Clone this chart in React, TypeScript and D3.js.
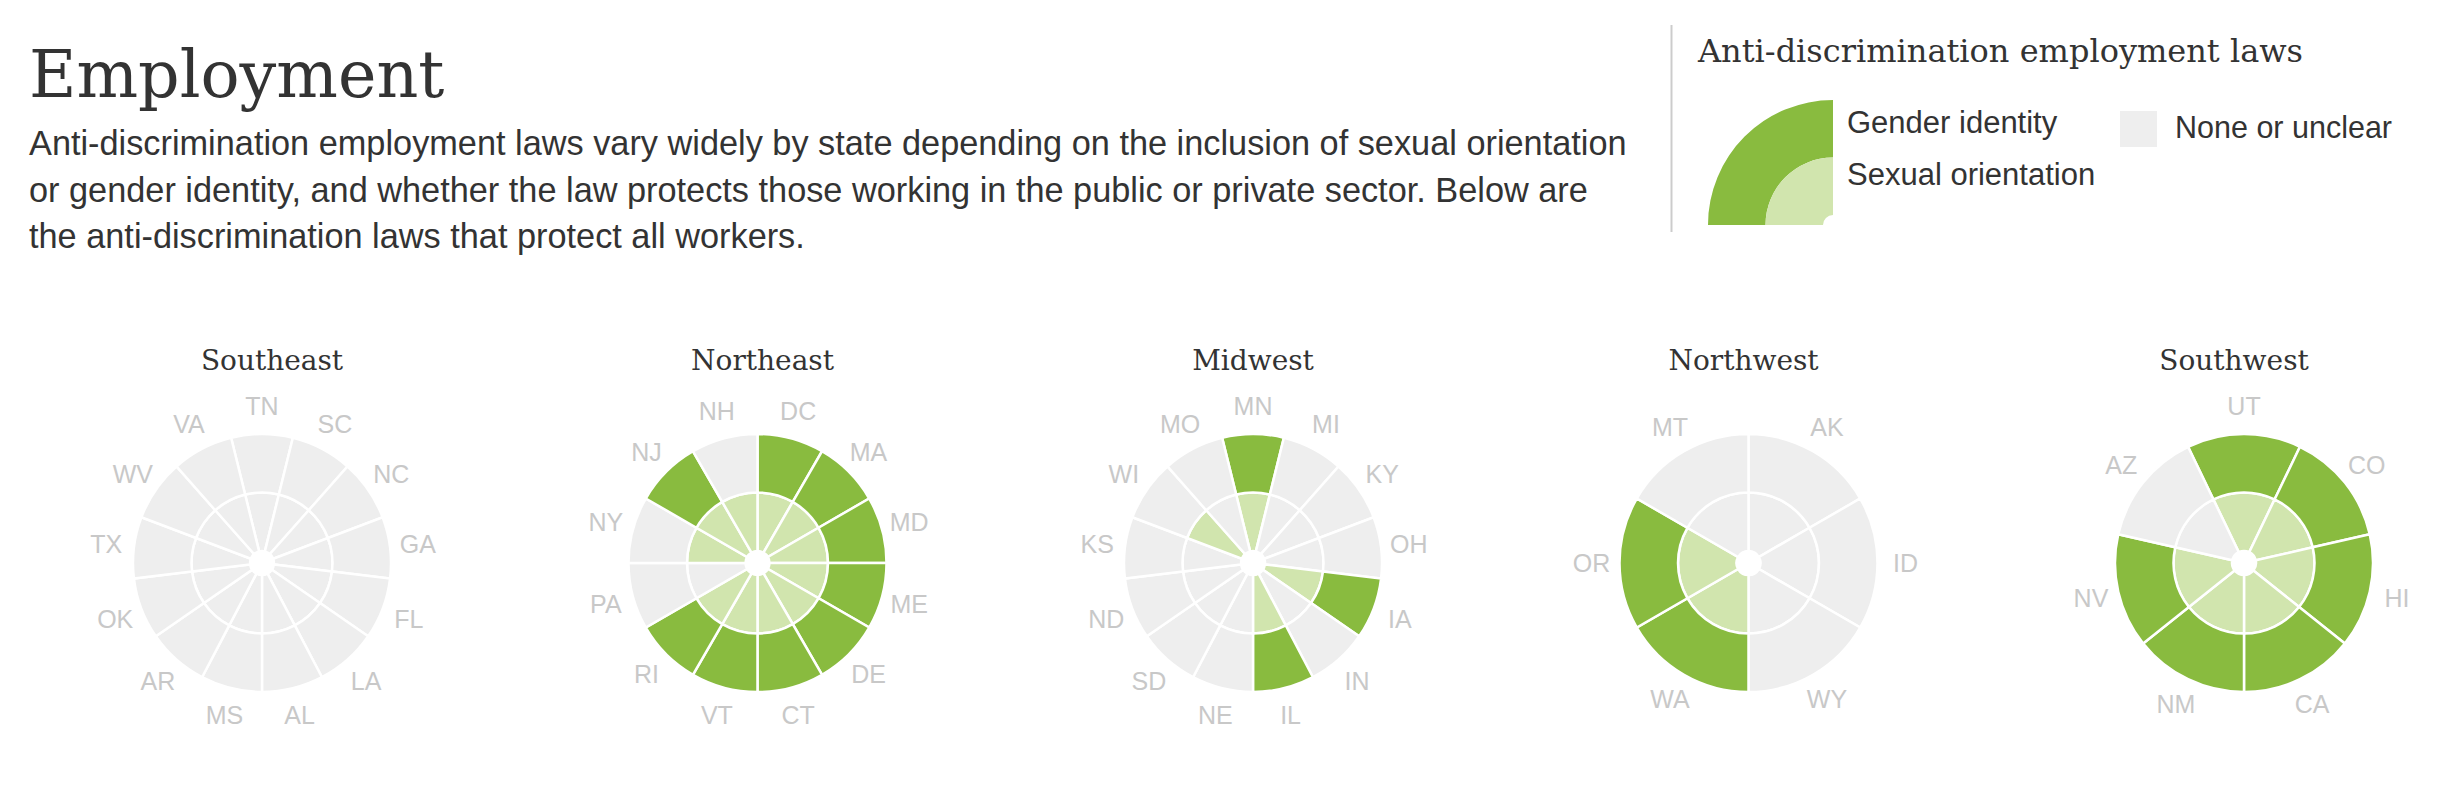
import React from "react";
import * as d3 from "d3";

// law codes: 0 none or unclear, 1 sexual orientation only, 2 sexual orientation + gender identity
const regionNames = ["Southeast", "Northeast", "Midwest", "Northwest", "Southwest"];

// states listed clockwise, starting at the top
const southeastStates = ["TN", "SC", "NC", "GA", "FL", "LA", "AL", "MS", "AR", "OK", "TX", "WV", "VA"];
const southeastLaw = [0, 0, 0, 0, 0, 0, 0, 0, 0, 0, 0, 0, 0];
const northeastStates = ["DC", "MA", "MD", "ME", "DE", "CT", "VT", "RI", "PA", "NY", "NJ", "NH"];
const northeastLaw = [2, 2, 2, 2, 2, 2, 2, 2, 0, 1, 2, 1];
const midwestStates = ["MN", "MI", "KY", "OH", "IA", "IN", "IL", "NE", "SD", "ND", "KS", "WI", "MO"];
const midwestLaw = [2, 0, 0, 0, 2, 0, 2, 0, 0, 0, 0, 1, 0];
const northwestStates = ["AK", "ID", "WY", "WA", "OR", "MT"];
const northwestLaw = [0, 0, 0, 2, 2, 0];
const southwestStates = ["UT", "CO", "HI", "CA", "NM", "NV", "AZ"];
const southwestLaw = [2, 2, 2, 2, 2, 2, 0];

const regionStates = [southeastStates, northeastStates, midwestStates, northwestStates, southwestStates];
const regionLaws = [southeastLaw, northeastLaw, midwestLaw, northwestLaw, southwestLaw];

const legendTitle = "Anti-discrimination employment laws";
const legendLabels = ["Gender identity", "Sexual orientation", "None or unclear"];

const bodyLines = [
    "Anti-discrimination employment laws vary widely by state depending on the inclusion of sexual orientation",
    "or gender identity, and whether the law protects those working in the public or private sector. Below are",
    "the anti-discrimination laws that protect all workers.",
];

const GREEN = "#89bb3f";
const LIGHT = "#d1e5ae";
const GREY = "#eeeeee";
const LABEL = "#c8c8c8";
const TEXT = "#333333";
const SERIF = "'DejaVu Serif', Georgia, serif";
const SANS = "'Liberation Sans', Arial, Helvetica, sans-serif";

const CY = 563;

// ring radii: 0 = hole, 1 = inner ring edge, 2 = outer edge
const ring = d3.scaleLinear().domain([0, 2]).range([12, 129]);
const legendRing = d3.scaleLinear().domain([0, 2]).range([10, 125]);

// columns
const chartX = d3.scaleLinear().domain([0, 4]).range([262, 2244]);
const titleX = d3.scaleLinear().domain([0, 4]).range([272, 2234]);

const arc = d3.arc<any>();

const RegionChart = ({idx}: { idx: number }) => {
    const states = regionStates[idx];
    const laws = regionLaws[idx];
    const n = states.length;
    const step = (2 * Math.PI) / n;
    // odd counts are rotated half a slice so the first state sits centred at the top
    const offset = n % 2 ? -step / 2 : 0;
    const pie = d3.pie<number>().value(() => 1).sort(null)
        .startAngle(offset).endAngle(offset + 2 * Math.PI);
    const slices = pie(laws);
    const cx = chartX(idx);

    return (
        <g>
            <text x={titleX(idx)} y={370} textAnchor="middle" fontFamily={SERIF} fontSize={28} fill={TEXT}>
                {regionNames[idx]}
            </text>
            <g transform={`translate(${cx},${CY})`}>
                {slices.map((s, i) => (
                    <g key={states[i]}>
                        <path
                            d={arc({innerRadius: ring(0), outerRadius: ring(1), startAngle: s.startAngle, endAngle: s.endAngle}) as string}
                            fill={laws[i] >= 1 ? LIGHT : GREY} stroke="#fff" strokeWidth={2.5}/>
                        <path
                            d={arc({innerRadius: ring(1), outerRadius: ring(2), startAngle: s.startAngle, endAngle: s.endAngle}) as string}
                            fill={laws[i] === 2 ? GREEN : GREY} stroke="#fff" strokeWidth={2.5}/>
                    </g>
                ))}
                {slices.map((s, i) => {
                    const a = (s.startAngle + s.endAngle) / 2
                    const r = 157
                    return (
                        <text key={"l" + states[i]} x={Math.sin(a) * r} y={-Math.cos(a) * r} dy="0.36em"
                              textAnchor="middle" fontFamily={SANS} fontSize={25} fill={LABEL}>
                            {states[i]}
                        </text>
                    )
                })}
            </g>
        </g>
    );
};

const Legend = () => {
    const lx = 1833, ly = 225;
    return (
        <g>
            <line x1={1671.5} x2={1671.5} y1={25} y2={232} stroke="#cccccc" strokeWidth={2}/>
            <text x={1698} y={62} fontFamily={SERIF} fontSize={32} fill={TEXT}>{legendTitle}</text>
            <g transform={`translate(${lx},${ly})`}>
                <path d={arc({innerRadius: legendRing(1), outerRadius: legendRing(2), startAngle: -Math.PI / 2, endAngle: 0}) as string}
                      fill={GREEN}/>
                <path d={arc({innerRadius: legendRing(0), outerRadius: legendRing(1), startAngle: -Math.PI / 2, endAngle: 0}) as string}
                      fill={LIGHT}/>
            </g>
            <text x={1847} y={133} fontFamily={SANS} fontSize={31} fill={TEXT}>{legendLabels[0]}</text>
            <text x={1847} y={185} fontFamily={SANS} fontSize={31} fill={TEXT}>{legendLabels[1]}</text>
            <rect x={2120} y={111} width={37} height={36} fill={GREY}/>
            <text x={2175} y={138} fontFamily={SANS} fontSize={30.5} fill={TEXT}>{legendLabels[2]}</text>
        </g>
    );
};

export default function App() {
    return (
        <svg width={2448} height={788} style={{position: "absolute", left: 0, top: 0, background: "#fff"}}>
            <text x={29} y={97} fontFamily={SERIF} fontSize={65} fill={TEXT}>Employment</text>
            {bodyLines.map((l, i) => (
                <text key={i} x={29} y={155 + i * 46.5} fontFamily={SANS} fontSize={34.3} fill={TEXT}>{l}</text>
            ))}
            <Legend/>
            {regionNames.map((r, i) => <RegionChart key={r} idx={i}/>)}
        </svg>
    );
}
